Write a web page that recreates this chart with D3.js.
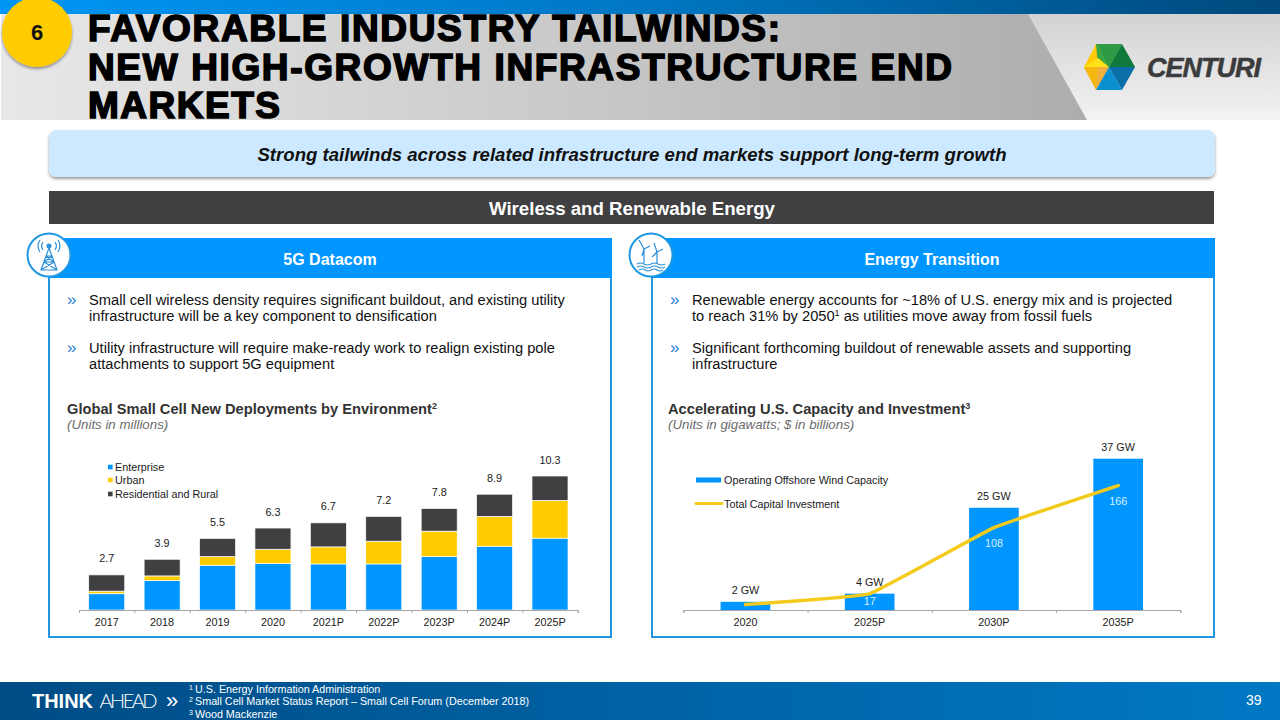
<!DOCTYPE html>
<html><head><meta charset="utf-8">
<script src="https://cdn.jsdelivr.net/npm/d3@7"></script>
<style>
html,body{margin:0;padding:0;background:#fff;overflow:hidden}
svg{display:block}
text{font-family:"Liberation Sans",Arial,sans-serif}
</style></head><body><div id="c"></div>
<script>
// ---------- chart data ----------
const smallCellYears = ["2017","2018","2019","2020","2021P","2022P","2023P","2024P","2025P"];
const enterprise = [1.25,2.26,3.44,3.57,3.54,3.54,4.11,4.90,5.52];
const urban      = [0.20,0.36,0.67,1.10,1.31,1.75,1.95,2.29,2.90];
const residential= [1.25,1.28,1.39,1.63,1.85,1.91,1.74,1.71,1.88];
const smallCellTotals = [2.7,3.9,5.5,6.3,6.7,7.2,7.8,8.9,10.3];
const smallCellSeries = ["Enterprise","Urban","Residential and Rural"];

const windYears = ["2020","2025P","2030P","2035P"];
const windCapacity = [2,4,25,37];
const capitalInvestment = [2,17,108,166];
const investmentLabels = ["","17","108","166"];
const windSeries = ["Operating Offshore Wind Capacity","Total Capital Investment"];

// ---------- slide text ----------
const titleLines = ["FAVORABLE INDUSTRY TAILWINDS:","NEW HIGH-GROWTH INFRASTRUCTURE END","MARKETS"];
const leftBullets = ["Small cell wireless density requires significant buildout, and existing utility","infrastructure will be a key component to densification","Utility infrastructure will require make-ready work to realign existing pole","attachments to support 5G equipment"];
const rightBullets = ["Renewable energy accounts for ~18% of U.S. energy mix and is projected","to reach 31% by 2050^1 as utilities move away from fossil fuels","Significant forthcoming buildout of renewable assets and supporting","infrastructure"];
const footnotes = ["U.S. Energy Information Administration","Small Cell Market Status Report – Small Cell Forum (December 2018)","Wood Mackenzie"];

const BLUE="#0096ff", YEL="#ffcc00", DARK="#404042", EDGE="#1f97e2", TXT="#1a1a1a", CHART_FONT=10.8;

const svg=d3.select("#c").append("svg").attr("width",1280).attr("height",720).attr("viewBox","0 0 1280 720");
const defs=svg.append("defs");
function grad(id,stops,x2=1,y2=0){
  const g=defs.append("linearGradient").attr("id",id).attr("x1",0).attr("y1",0).attr("x2",x2).attr("y2",y2);
  stops.forEach(s=>g.append("stop").attr("offset",s[0]).attr("stop-color",s[1]));
}
grad("gTop",[[0,"#0096f5"],[0.5,"#0077c4"],[1,"#00497c"]]);
grad("gHead",[[0,"#e8e8e8"],[1,"#adadad"]]);
grad("gHeadR",[[0,"#d2d2d2"],[1,"#f3f3f3"]],0,1);
grad("gFoot",[[0,"#004c85"],[1,"#0078c4"]]);
const sh=defs.append("filter").attr("id","sh").attr("x","-5%").attr("y","-20%").attr("width","110%").attr("height","150%");
sh.append("feDropShadow").attr("dx",0).attr("dy",2).attr("stdDeviation",1.5).attr("flood-color","#000").attr("flood-opacity",.4);

function rich(sel,str,supSize){
  const parts=str.split(/\^(\d)/);
  parts.forEach((p,i)=>{
    if(i%2===0){
      const prev=i>0;
      if(p) sel.append("tspan").attr("dy",prev?5:0).text(p);
    } else sel.append("tspan").attr("dy",-5).attr("font-size",supSize).text(p);
  });
}
function T(x,y,s,size,o={}){
  const t=svg.append("text").attr("x",x).attr("y",y).attr("font-size",size)
    .attr("fill",o.fill||TXT).attr("font-weight",o.w||"normal").attr("font-style",o.i?"italic":"normal")
    .attr("text-anchor",o.a||"start");
  if(o.len) t.attr("textLength",o.len).attr("lengthAdjust","spacing");
  if(o.family) t.style("font-family",o.family);
  rich(t,s,Math.round(size*.62));
  return t;
}

// ---------- header ----------
svg.append("rect").attr("x",1).attr("y",14).attr("width",1279).attr("height",106).attr("fill","url(#gHeadR)");
svg.append("path").attr("d","M1,14H1028L1087,120H1V14Z").attr("fill","url(#gHead)");
svg.append("rect").attr("width",1280).attr("height",14).attr("fill","url(#gTop)");
[[41,692],[80,864],[118,192]].forEach((d,i)=>{
  T(88,d[0],titleLines[i],37,{w:"bold",fill:"#000",len:d[1]}).attr("stroke","#000").attr("stroke-width",1.6);
});
svg.append("circle").attr("cx",37).attr("cy",32).attr("r",35).attr("fill",YEL).attr("filter","url(#sh)");
T(37,40,"6",22,{w:"bold",a:"middle",fill:"#111"});

// logo
const hexTri=[["1109,44 1096,44 1084,67 1098,67","#ffcb05"],["1096,44 1122,44 1109,67 1098,67","#3aa843"],["1122,44 1135,67 1109,67","#0f7a3c"],
 ["1109,44 1122,44 1109,67","#2f9a45"],["1084,67 1098,67 1111,67 1096,90","#f0b040"],["1084,67 1096,90 1098,67","#f5b70f"],["1098,58 1109,67 1084,67","#ffe01a"],
 ["1096,90 1122,90 1109,67","#0a8fd0"],["1109,67 1135,67 1122,90","#0a6ea8"],["1098,44 1109,44 1109,67","#2f9a45"]];
svg.append("g").selectAll("polygon").data(hexTri).join("polygon").attr("points",d=>d[0]).attr("fill",d=>d[1]);
T(1147,77,"CENTURI",27,{w:"bold",i:true,fill:"#3b3b3d",len:114}).attr("stroke","#3b3b3d").attr("stroke-width",.5);

// banners
svg.append("rect").attr("x",49).attr("y",130).attr("width",1166).attr("height",47).attr("rx",7).attr("fill","#cce9ff").attr("filter","url(#sh)");
T(632,161,"Strong tailwinds across related infrastructure end markets support long-term growth",18.6,{w:"bold",i:true,a:"middle",fill:"#111"});
svg.append("rect").attr("x",49).attr("y",191).attr("width",1165).attr("height",33).attr("fill",DARK);
T(632,215,"Wireless and Renewable Energy",18.67,{w:"bold",a:"middle",fill:"#fff"});

// panels
function panel(x,w,title,cx){
  svg.append("rect").attr("x",x).attr("y",239).attr("width",w).attr("height",398).attr("fill","#fff").attr("stroke",EDGE).attr("stroke-width",2);
  svg.append("rect").attr("x",x).attr("y",238).attr("width",w+1).attr("height",40).attr("fill",BLUE);
  T(cx,265,title,16,{w:"bold",a:"middle",fill:"#fff"});
}
panel(49,562,"5G Datacom",330);
panel(652,562,"Energy Transition",932);

function bullets(xb,xt,lines){
  [305,321,353,369].forEach((y,i)=>{
    T(xt,y,lines[i],14.67,{fill:"#111"});
    if(i%2===0) T(xb,y,"»",17,{fill:"#1f7fd0"});
  });
}
bullets(67,89,leftBullets);
bullets(670,692,rightBullets);
T(67,414,"Global Small Cell New Deployments by Environment^2",14.67,{w:"bold",fill:"#333"});
T(67,429,"(Units in millions)",13.3,{i:true,fill:"#6b6b6b"});
T(668,414,"Accelerating U.S. Capacity and Investment^3",14.67,{w:"bold",fill:"#333"});
T(668,429,"(Units in gigawatts; $ in billions)",13.3,{i:true,fill:"#6b6b6b"});

// icons
function icon(cx,cy){
  const g=svg.append("g").attr("transform",`translate(${cx},${cy})`);
  g.append("circle").attr("r",21.5).attr("fill","#fff").attr("stroke",EDGE).attr("stroke-width",2);
  return g.append("g").attr("fill","none").attr("stroke","#2a8fd8").attr("stroke-width",1.2);
}
const ic1=icon(49,255);
ic1.append("path").attr("d","M0,-7L-8,15H8L0,-7M-3,1H3M-5,7H5M-8,15L5,7M8,15L-5,7M-5,7L3,1M5,7L-3,1");
ic1.append("circle").attr("cy",-9).attr("r",2).attr("fill","#2a8fd8");
ic1.append("path").attr("d","M-6,-13A7,7 0 0 0 -6,-5M6,-13A7,7 0 0 1 6,-5M-9,-15A11,11 0 0 0 -9,-3M9,-15A11,11 0 0 1 9,-3");
const ic2=icon(651,255);
ic2.append("path").attr("d","M-7,8V-6M-7,-6L-12,-15M-7,-6L-1,-9M-7,-6L-9,1M6,8V-3M6,-3L3,-12M6,-3L12,-6M6,-3L1,2");
ic2.append("path").attr("d","M-14,9q3.5,-2 7,0t7,0t7,0t7,0M-14,12q3.5,-2 7,0t7,0t7,0t7,0M-12,15q3,-2 6,0t6,0t6,0t6,0");

// ---------- left chart ----------
const x1=d3.scaleBand().domain(smallCellYears).range([79,577.7]).paddingInner(0.35).paddingOuter(0.175);
const y1=d3.scaleLinear().domain([0,10.3]).range([610,476]);
const stackRows=smallCellYears.map((yr,i)=>({yr,Enterprise:enterprise[i],Urban:urban[i],"Residential and Rural":residential[i]}));
const stacked=d3.stack().keys(smallCellSeries)(stackRows);
const color1=d3.scaleOrdinal().domain(smallCellSeries).range([BLUE,YEL,DARK]);
svg.append("g").selectAll("g").data(stacked).join("g").attr("fill",d=>color1(d.key))
  .selectAll("rect").data(d=>d).join("rect")
  .attr("x",d=>x1(d.data.yr)).attr("width",x1.bandwidth())
  .attr("y",d=>y1(d[1])).attr("height",d=>y1(d[0])-y1(d[1]))
  .attr("stroke","#fff").attr("stroke-width",.7);
svg.append("g").selectAll("text").data(smallCellTotals).join("text")
  .attr("x",(d,i)=>x1(smallCellYears[i])+x1.bandwidth()/2).attr("y",d=>y1(d)-12.5)
  .attr("text-anchor","middle").attr("font-size",CHART_FONT).attr("fill",TXT).text(d=>d.toFixed(1));

function axis(band,y){
  const n=band.domain().length, r=band.range();
  const tickScale=d3.scaleLinear().domain([0,n]).range(r);
  const a=svg.append("g").attr("transform",`translate(0,${y})`)
    .call(d3.axisBottom(tickScale).ticks(n).tickSize(3).tickFormat(""));
  a.selectAll("path,line").attr("stroke","#a6a6a6");
  a.select("path").attr("stroke-width",1);
  const b=svg.append("g").attr("transform",`translate(0,${y})`)
    .call(d3.axisBottom(band).tickSize(0).tickPadding(8));
  b.select("path").remove();
  b.selectAll("text").attr("font-size",CHART_FONT).attr("fill",TXT).style("font-family","'Liberation Sans',Arial,sans-serif");
}
axis(x1,610);

const legendYs=[467,480,494];
smallCellSeries.forEach((s,i)=>{
  svg.append("rect").attr("x",108).attr("y",legendYs[i]-2.3).attr("width",4.6).attr("height",4.6).attr("fill",color1(s));
  T(115,legendYs[i]+4,s,CHART_FONT,{});
});

// ---------- right chart ----------
const x2=d3.scaleBand().domain(windYears).range([683.3,1180.3]).paddingInner(0.6).paddingOuter(0.3);
const y2=d3.scaleLinear().domain([0,37]).range([610,458.7]);
const y2Line=d3.scaleLinear().domain([-5.5,203]).range([610,458.7]);
svg.append("g").attr("fill",BLUE).selectAll("rect").data(windCapacity).join("rect")
  .attr("x",(d,i)=>x2(windYears[i])).attr("width",x2.bandwidth())
  .attr("y",d=>y2(d)).attr("height",d=>610-y2(d));
const xc=i=>x2(windYears[i])+x2.bandwidth()/2;
const line=d3.line().x((d,i)=>xc(i)).y(d=>y2Line(d)).curve(d3.curveCardinal.tension(0.75));
svg.append("path").datum(capitalInvestment).attr("d",line).attr("fill","none")
  .attr("stroke","#f4cb1c").attr("stroke-width",3.5).attr("stroke-linecap","round");
svg.append("g").selectAll("text").data(windCapacity).join("text")
  .attr("x",(d,i)=>xc(i)).attr("y",d=>y2(d)-8).attr("text-anchor","middle")
  .attr("font-size",CHART_FONT).attr("fill",TXT).text(d=>d+" GW");
svg.append("g").selectAll("text").data(investmentLabels).join("text")
  .attr("x",(d,i)=>xc(i)).attr("y",(d,i)=>Math.min(y2Line(capitalInvestment[i])+19.5,605)).attr("text-anchor","middle")
  .attr("font-size",CHART_FONT).attr("fill","#d8f0ff").text(d=>d);
axis(x2,610);

svg.append("rect").attr("x",696).attr("y",477.5).attr("width",25).attr("height",5).attr("fill",BLUE);
svg.append("line").attr("x1",696).attr("x2",722).attr("y1",503.5).attr("y2",503.5).attr("stroke","#f4cb1c").attr("stroke-width",3).attr("stroke-linecap","round");
T(724,484,windSeries[0],CHART_FONT,{});
T(724,507.5,windSeries[1],CHART_FONT,{});

// ---------- footer ----------
svg.append("rect").attr("y",682).attr("width",1280).attr("height",38).attr("fill","url(#gFoot)");
T(32,708,"THINK",20,{w:"bold",fill:"#fff",len:61});
T(99.5,708,"AHEAD",20,{fill:"#fff",len:58,family:"Lato,'Liberation Sans',sans-serif"}).attr("font-weight",300);
T(166,708,"»",22,{fill:"#fff"});
[692.5,705,717.5].forEach((y,i)=>{
  T(189,y-3,String(i+1),7,{fill:"#fff"});
  T(195,y,footnotes[i],10.75,{fill:"#fff"});
});
T(1246,705,"39",14,{fill:"#fff"});
</script></body></html>
